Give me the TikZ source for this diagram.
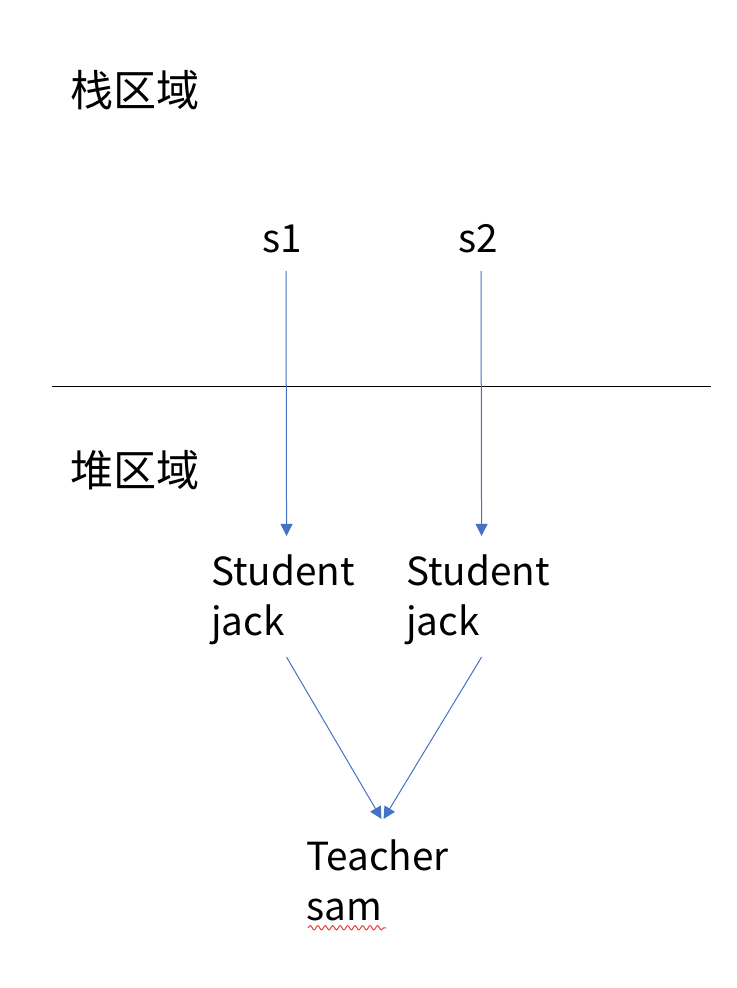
\documentclass[tikz,border=0pt]{standalone}
\usepackage{fontspec}
\setmainfont{Noto Sans CJK SC}
\usetikzlibrary{arrows.meta,decorations.pathmorphing}
\definecolor{arrblue}{RGB}{68,114,196}
\definecolor{wavyred}{RGB}{232,64,52}
\begin{document}
\begin{tikzpicture}[x=0.75pt,y=-0.75pt,
  lbl/.style={inner sep=0pt, font=\fontsize{29}{37.5}\selectfont, align=left},
  cjk/.style={inner sep=0pt, font=\fontsize{32.3}{37.5}\selectfont},
  arr/.style={color=arrblue, line width=0.75pt, -{Triangle[length=9pt,width=9pt]}}]
\useasboundingbox (0,0) rectangle (736,988);
\node[cjk, anchor=west] (stack) at (70,90) {栈区域};
\node[cjk, anchor=west] (heap) at (70,470) {堆区域};
\draw[line width=0.75pt] (52,386) coordinate (l0) -- (711,386) coordinate (l1);
\node[lbl, anchor=base] (s1) at (282,252) {s1};
\node[lbl, anchor=base] (s2) at (478,252) {s2};
\node[lbl, anchor=base west] (st1) at (211,635) {Student\\jack};
\node[lbl, anchor=base west] (st2) at (406,635) {Student\\jack};
\node[lbl, anchor=base west] (tea) at (306,920) {Teacher\\sam};
\draw[arr] ([shift={(4,18)}]s1.south) -- ([shift={(3.5,-18)}]st1.north);
\draw[arr] ([shift={(3,18)}]s2.south) -- ([shift={(3.5,-18)}]st2.north);
\draw[arr] ([shift={(3.5,12.5)}]st1.south) -- ([shift={(4,-20)}]tea.north);
\draw[arr] ([shift={(3.5,12.5)}]st2.south) -- ([shift={(6,-20)}]tea.north);
\draw[wavyred, line width=0.75pt, decorate, decoration={snake, amplitude=1.6, segment length=5.6}]
  ([shift={(2,7)}]tea.south west) -- ([shift={(80,7)}]tea.south west);
\end{tikzpicture}
\end{document}
